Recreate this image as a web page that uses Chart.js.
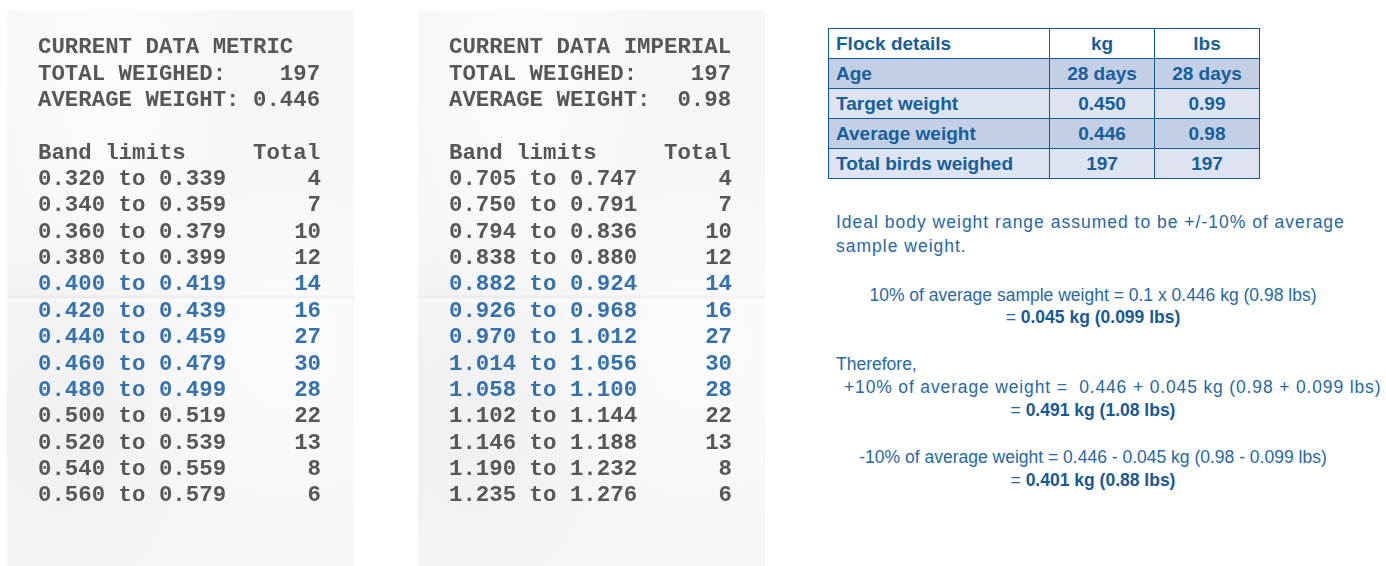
<!DOCTYPE html>
<html>
<head>
<meta charset="utf-8">
<script src="https://cdn.jsdelivr.net/npm/chart.js"></script>
<style>
  html, body { margin: 0; padding: 0; background: #fff; }
  body { width: 1386px; height: 566px; position: relative; overflow: hidden; }
  .paper {
    position: absolute; top: 10px; height: 556px; width: 347px;
    background-color: #f6f6f6;
    background-image:
      linear-gradient(to bottom, rgba(0,0,0,0) 284px, rgba(0,0,0,0.045) 287px, rgba(255,255,255,0.7) 290px, rgba(0,0,0,0) 294px),
      radial-gradient(ellipse at 30% 8%, rgba(255,255,255,0.7), rgba(255,255,255,0) 40%),
      radial-gradient(ellipse at 80% 60%, rgba(255,255,255,0.6), rgba(255,255,255,0) 45%),
      radial-gradient(ellipse at 15% 75%, rgba(0,0,0,0.025), rgba(0,0,0,0) 40%);
  }
  .paper canvas { position: absolute; left: 0; top: 0; }
  #p1 { left: 7px; }
  #p2 { left: 418px; }
  table.flock {
    position: absolute; left: 828px; top: 28px; width: 432px;
    border-collapse: collapse; font-family: "Liberation Sans", Arial, sans-serif;
    font-weight: bold; font-size: 19px; color: #165f9c;
  }
  table.flock td { border: 1.5px solid #13599a; height: 29px; padding: 0 7px; text-align: center; }
  table.flock td:first-child { text-align: left; width: 206px; }
  table.flock tr:nth-child(1) td { background: #fff; }
  table.flock tr:nth-child(even) td { background: #c3cfe4; }
  table.flock tr:nth-child(odd):not(:first-child) td { background: #dde3f0; }
  .note {
    position: absolute; font-family: "Liberation Sans", Arial, sans-serif;
    font-size: 17.5px; line-height: 22px; color: #2668a6; white-space: pre;
  }
  .note.c { left: 800px; width: 586px; text-align: center; }
  .note b { color: #175a96; }
</style>
</head>
<body>
<div class="paper" id="p1"><canvas id="metric"></canvas></div>
<div class="paper" id="p2"><canvas id="imperial"></canvas></div>
<table class="flock" id="flock"></table>
<div id="notes"></div>

<script>
// receipt data
const metricBands = ['0.320 to 0.339', '0.340 to 0.359', '0.360 to 0.379', '0.380 to 0.399',
  '0.400 to 0.419', '0.420 to 0.439', '0.440 to 0.459', '0.460 to 0.479', '0.480 to 0.499',
  '0.500 to 0.519', '0.520 to 0.539', '0.540 to 0.559', '0.560 to 0.579'];
const imperialBands = ['0.705 to 0.747', '0.750 to 0.791', '0.794 to 0.836', '0.838 to 0.880',
  '0.882 to 0.924', '0.926 to 0.968', '0.970 to 1.012', '1.014 to 1.056', '1.058 to 1.100',
  '1.102 to 1.144', '1.146 to 1.188', '1.190 to 1.232', '1.235 to 1.276'];
const bandTotals = [4, 7, 10, 12, 14, 16, 27, 30, 28, 22, 13, 8, 6];
const idealRows = [4, 5, 6, 7, 8];
const totalWeighed = 197;
const avgMetric = '0.446';
const avgImperial = '0.98';

// flock table
const flockLabels = ['Age', 'Target weight', 'Average weight', 'Total birds weighed'];
const flockKg = ['28 days', '0.450', '0.446', '197'];
const flockLbs = ['28 days', '0.99', '0.98', '197'];

const GRAY = '#575757';
const BLUE = '#3572ad';
const ROW = 26.33;
const LINE = 21;
const monoFont = { family: 'Liberation Mono', size: 22.4, weight: 'bold', lineHeight: 1 };

function header(name, avg) {
  return [
    'CURRENT DATA ' + name,
    'TOTAL WEIGHED:' + String(totalWeighed).padStart(LINE - 14),
    'AVERAGE WEIGHT:' + avg.padStart(LINE - 15),
    '',
    'Band limits' + 'Total'.padStart(LINE - 11)
  ];
}

function rowColor(c) {
  return idealRows.includes(c.index) ? BLUE : GRAY;
}

function makeReceipt(id, name, avg, bands) {
  const canvas = document.getElementById(id);
  canvas.width = 347;
  canvas.height = 556;
  new Chart(canvas, {
    type: 'bar',
    data: {
      labels: bands,
      datasets: [{
        data: bandTotals,
        backgroundColor: 'rgba(0,0,0,0)',
        borderWidth: 0
      }]
    },
    options: {
      indexAxis: 'y',
      responsive: false,
      animation: false,
      layout: { padding: { top: 24.5, bottom: 57, left: 31, right: 33 } },
      plugins: {
        legend: { display: false },
        tooltip: { enabled: false },
        title: {
          display: true,
          text: header(name, avg),
          align: 'start',
          color: GRAY,
          padding: 0,
          font: { family: 'Liberation Mono', size: 22.4, weight: 'bold', lineHeight: ROW + 'px' }
        }
      },
      scales: {
        x: { type: 'linear', display: false, min: 0 },
        y: {
          type: 'category', position: 'left', offset: true,
          grid: { display: false, drawTicks: false }, border: { display: false },
          ticks: { autoSkip: false, mirror: true, padding: 0, color: rowColor, font: monoFont }
        },
        y2: {
          type: 'category', position: 'right', offset: true, labels: bands,
          grid: { display: false, drawTicks: false }, border: { display: false },
          ticks: {
            autoSkip: false, mirror: true, padding: 0, color: rowColor, font: monoFont,
            callback: (v, i) => String(bandTotals[i])
          }
        }
      }
    }
  });
}

makeReceipt('metric', 'METRIC', avgMetric, metricBands);
makeReceipt('imperial', 'IMPERIAL', avgImperial, imperialBands);

// table
const table = document.getElementById('flock');
let html = '<tr><td>Flock details</td><td>kg</td><td>lbs</td></tr>';
flockLabels.forEach((lab, i) => {
  html += '<tr><td>' + lab + '</td><td>' + flockKg[i] + '</td><td>' + flockLbs[i] + '</td></tr>';
});
table.innerHTML = html;

// notes
const notes = [
  { y: 222, x: 836, ls: 1, t: 'Ideal body weight range assumed to be +/-10% of average' },
  { y: 246, x: 836, ls: 1, t: 'sample weight.' },
  { y: 295, c: true, t: '10% of average sample weight = 0.1 x 0.446 kg (0.98 lbs)' },
  { y: 317, c: true, t: '= <b>0.045 kg (0.099 lbs)</b>' },
  { y: 364, x: 836, t: 'Therefore,' },
  { y: 387, x: 844, ls: 0.85, t: '+10% of average weight =  0.446 + 0.045 kg (0.98 + 0.099 lbs)' },
  { y: 410, c: true, t: '= <b>0.491 kg (1.08 lbs)</b>' },
  { y: 457, c: true, t: '-10% of average weight = 0.446 - 0.045 kg (0.98 - 0.099 lbs)' },
  { y: 480, c: true, t: '= <b>0.401 kg (0.88 lbs)</b>' }
];
const box = document.getElementById('notes');
notes.forEach(n => {
  const d = document.createElement('div');
  d.className = 'note' + (n.c ? ' c' : '');
  d.style.top = (n.y - 11) + 'px';
  if (!n.c) d.style.left = n.x + 'px';
  if (n.ls) d.style.letterSpacing = n.ls + 'px';
  d.innerHTML = n.t;
  box.appendChild(d);
});
</script>
</body>
</html>
